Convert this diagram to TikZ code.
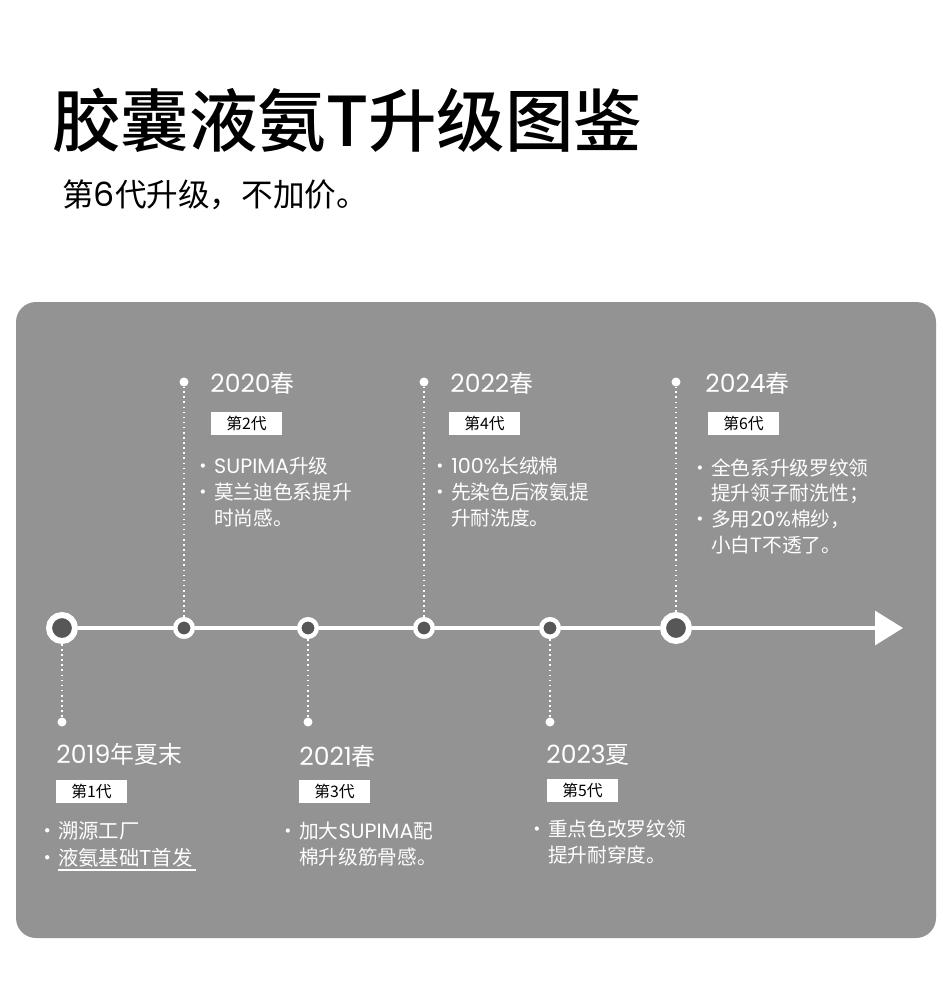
\documentclass[tikz,border=0pt]{standalone}
\usepackage{fontspec}
\setmainfont{Noto Sans CJK SC}
\newfontfamily\titlefont{Noto Sans CJK SC Medium}
\newfontfamily\numfont[Scale=1.05]{Poppins}
\usetikzlibrary{positioning, calc, arrows.meta}

% bullet with the dot centred on the left edge, and the matching indent
\newcommand{\bul}{\makebox[6.2pt][l]{\makebox[0pt][c]{·}}}
\newcommand{\ind}{\hspace*{6.2pt}}
\newcommand{\lat}[1]{{\numfont #1}}

\begin{document}
\begin{tikzpicture}[
  x=0.02cm, y=-0.02cm,
  bigdot/.style={circle, draw=white, fill=cdark, line width=3.4pt, minimum size=0.52cm, inner sep=0pt},
  smalldot/.style={circle, draw=white, fill=cdark, line width=2.55pt, minimum size=0.35cm, inner sep=0pt},
  enddot/.style={circle, fill=white, minimum size=0.18cm, inner sep=0pt},
  leader/.style={white, line width=0.9pt, dotted},
  yearlabel/.style={anchor=west, inner sep=0pt, text=white, font=\fontsize{13.6}{13.6}\selectfont},
  badge/.style={fill=white, minimum width=1.42cm, minimum height=0.46cm, inner sep=0pt, font=\fontsize{9}{9}\selectfont},
  notes/.style={anchor=north west, inner sep=0pt, text=white, align=left, font=\fontsize{11.2}{14.7}\selectfont},
]
\definecolor{cpanel}{HTML}{939393}   % panel grey
\definecolor{cdark}{HTML}{575757}    % dot centre

\useasboundingbox (0,0) rectangle (950,1007);

% -------- heading --------
\node[anchor=west, inner sep=0pt, font=\fontsize{39}{39}\selectfont\titlefont] (title) at (52,120) {胶囊液氨T升级图鉴};
\node[anchor=west, inner sep=0pt, font=\fontsize{18}{18}\selectfont] (subtitle) at (62,195) {第\lat{6}代升级，不加价。};

% -------- panel --------
\fill[cpanel, rounded corners=0.4cm] (16,302) rectangle (936,938);

% =====================================================================
% timeline
% =====================================================================
\node[bigdot]   (p1) at (62,628)  {};
\node[smalldot] (p2) at (184,628) {};
\node[smalldot] (p3) at (308,628) {};
\node[smalldot] (p4) at (424,628) {};
\node[smalldot] (p5) at (550,628) {};
\node[bigdot]   (p6) at (676,628) {};
\coordinate (tip) at (903,628);

\draw[white, line width=1.8pt] (p1) -- (p2) -- (p3) -- (p4) -- (p5) -- (p6);
\draw[white, line width=1.8pt, -{Triangle[length=0.56cm, width=0.68cm]}] (p6) -- (tip);

% leader lines up / down to the labels
\node[enddot] (e1) at (62,722)  {};
\node[enddot] (e2) at (184,382) {};
\node[enddot] (e3) at (308,722) {};
\node[enddot] (e4) at (424,382) {};
\node[enddot] (e5) at (550,722) {};
\node[enddot] (e6) at (676,382) {};

\foreach \i in {1,...,6} {
  \draw[leader] (p\i) -- (e\i);
}

% =====================================================================
% labels above the line
% =====================================================================
\node[yearlabel] (y2) at (210,383) {\lat{2020}春};
\node[badge]     (b2) at (246.5,423) {第2代};
\node[notes]     (n2) at (203,457) {\bul \lat{SUPIMA}升级\\ \bul 莫兰迪色系提升\\ \ind 时尚感。};

\node[yearlabel] (y4) at (450,383) {\lat{2022}春};
\node[badge]     (b4) at (484.5,423) {第4代};
\node[notes]     (n4) at (440,457) {\bul \lat{100\%}长绒棉\\ \bul 先染色后液氨提\\ \ind 升耐洗度。};

\node[yearlabel] (y6) at (705,383) {\lat{2024}春};
\node[badge]     (b6) at (743.5,423) {第6代};
\node[notes]     (n6) at (700,458) {\bul 全色系升级罗纹领\\ \ind 提升领子耐洗性；\\ \bul 多用\lat{20\%}棉纱，\\ \ind 小白T不透了。};

% =====================================================================
% labels below the line
% =====================================================================
\node[yearlabel] (y1) at (56,754) {\lat{2019}年夏末};
\node[badge]     (b1) at (91.5,791.5) {第1代};
\node[notes, font=\fontsize{11.6}{15.2}\selectfont] (n1) at (47,821) {\bul 溯源工厂\\ \bul 液氨基础T首发};
\draw[white, line width=0.7pt] (58,870) -- (196,870);

\node[yearlabel] (y3) at (299,756) {\lat{2021}春};
\node[badge]     (b3) at (334.5,791) {第3代};
\node[notes]     (n3) at (288,822) {\bul 加大\lat{SUPIMA}配\\ \ind 棉升级筋骨感。};

\node[yearlabel] (y5) at (546,755) {\lat{2023}夏};
\node[badge]     (b5) at (582.5,790.5) {第5代};
\node[notes]     (n5) at (537,820) {\bul 重点色改罗纹领\\ \ind 提升耐穿度。};

\end{tikzpicture}
\end{document}
